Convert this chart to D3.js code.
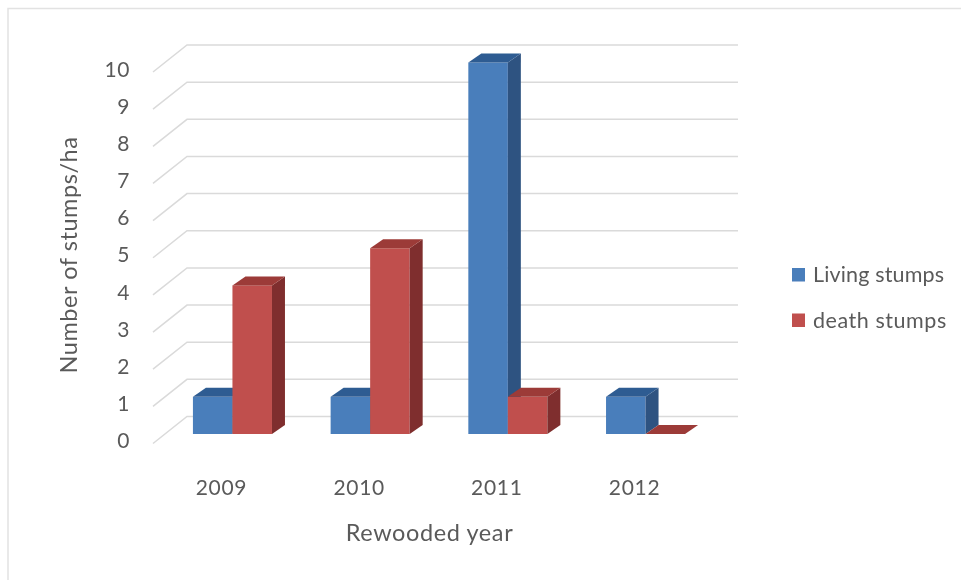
<!DOCTYPE html>
<html><head><meta charset="utf-8">
<script src="https://cdnjs.cloudflare.com/ajax/libs/d3/7.8.5/d3.min.js"></script>
<style>html,body{margin:0;background:#fff}svg{display:block}text{font-family:Lato,"Open Sans",sans-serif;fill:#5f5f5f}</style>
</head><body><svg id="c" width="961" height="580"></svg>
<script>
const years = ["2009","2010","2011","2012"];
const seriesNames = ["Living stumps","death stumps"];
const livingStumps = [1,1,10,1];
const deathStumps = [4,5,1,0];
const yTicks = [0,1,2,3,4,5,6,7,8,9,10];
const faceColors = [
  {front:"#4a7ebb",top:"#2f5c92",side:"#2f5381"},
  {front:"#c0504d",top:"#9c3a37",side:"#7f2f2d"}
];
const svg = d3.select("#c");
const defs = svg.append("defs");
defs.append("filter").attr("id","soft").append("feGaussianBlur").attr("stdDeviation",0.6);
const root = svg.append("g").attr("filter","url(#soft)");

root.append("path").attr("d","M8 580V8.5H961").attr("fill","none").attr("stroke","#e2e2e2").attr("stroke-width",1.5);

const y = d3.scaleLinear().domain([0,10]).range([434,62.5]);
const x0 = d3.scaleBand().domain(years).range([163.6,714.4]).paddingInner(0.426).paddingOuter(0.213);
const x1 = d3.scaleBand().domain(seriesNames).range([0,x0.bandwidth()]);
const barDx = 13, barDy = -9;
const wallDx = -34, wallDy = 27, wallRight = 738, wallLeft = 187, wallShift = -17.5;

// gridlines on back wall and floor
const grid = root.append("g").attr("fill","none").attr("stroke","#dadada").attr("stroke-width",1.5);
grid.selectAll("path").data(yTicks).join("path")
  .attr("d",d=>{const yb=y(d)+wallShift;return `M${wallLeft+wallDx} ${yb+wallDy}L${wallLeft} ${yb}H${wallRight}`;});

// bars
const groups = root.selectAll("g.grp").data(years).join("g").attr("class","grp")
  .attr("transform",d=>`translate(${x0(d)},0)`);
const rows = years.flatMap((yr,i)=>[
  {yr,s:0,name:seriesNames[0],v:livingStumps[i]},
  {yr,s:1,name:seriesNames[1],v:deathStumps[i]}
]);
groups.each(function(yr){
  const g = d3.select(this);
  rows.filter(r=>r.yr===yr).forEach(r=>{
    const l=x1(r.name), w=x1.bandwidth(), t=y(r.v), b=y(0), c=faceColors[r.s];
    if(r.v>0) g.append("rect").attr("x",l).attr("y",t).attr("width",w).attr("height",b-t).attr("fill",c.front);
    if(r.v>0) g.append("path").attr("fill",c.side)
      .attr("d",`M${l+w} ${t}l${barDx} ${barDy}V${b+barDy}l${-barDx} ${-barDy}Z`);
    g.append("path").attr("fill",c.top)
      .attr("d",`M${l} ${t}l${barDx} ${barDy}h${w}l${-barDx} ${-barDy}Z`);
  });
});

// y axis labels
const yAxis = root.append("g").attr("transform","translate(130,7)")
  .call(d3.axisLeft(y).tickValues(yTicks).tickSize(0).tickPadding(0).tickFormat(d3.format("d")));
yAxis.select(".domain").remove();
yAxis.selectAll("text").attr("font-size",21).attr("dy","0.32em").attr("style","font-family:Lato;fill:#5a5a5a;letter-spacing:.6px");

// x axis labels
const xAxis = root.append("g").attr("transform","translate(-11,481)")
  .call(d3.axisBottom(x0).tickSize(0).tickPadding(0));
xAxis.select(".domain").remove();
xAxis.selectAll("text").attr("font-size",21).attr("dy","0.71em").attr("y",-1).attr("style","font-family:Lato;fill:#5a5a5a;letter-spacing:.7px");

// axis titles
root.append("text").attr("transform","translate(77,255) rotate(-90)").attr("text-anchor","middle")
  .attr("font-size",23.5).attr("letter-spacing",".55").style("fill","#5a5a5a").text("Number of stumps/ha");
root.append("text").attr("x",429.5).attr("y",541).attr("text-anchor","middle")
  .attr("font-size",23.5).attr("letter-spacing",".6").style("fill","#5a5a5a").text("Rewooded year");

// legend
const legendY = d3.scalePoint().domain(seriesNames).range([275,320.5]);
const lg = root.selectAll("g.lg").data(seriesNames).join("g").attr("class","lg")
  .attr("transform",d=>`translate(792,${legendY(d)})`);
lg.append("rect").attr("y",-7).attr("width",13).attr("height",13.5).attr("fill",(d,i)=>faceColors[i].front);
lg.append("text").attr("x",21).attr("y",7).attr("font-size",21.5).attr("letter-spacing",(d,i)=>i?".55":".15").style("fill","#5a5a5a").text(d=>d);
</script></body></html>
